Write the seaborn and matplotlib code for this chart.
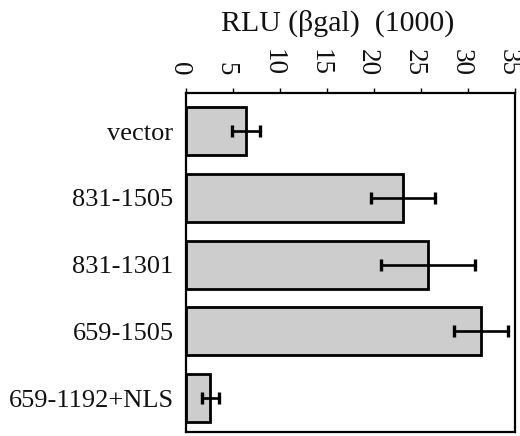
import matplotlib
matplotlib.use("Agg")
import matplotlib.pyplot as plt
import matplotlib.transforms as mtransforms
import seaborn as sns
import numpy as np
import pandas as pd

categories = ["vector", "831-1505", "831-1301", "659-1505", "659-1192+NLS"]
values = [6.4, 23.1, 25.7, 31.4, 2.6]
errors = [1.5, 3.4, 5.0, 2.9, 0.95]
x_ticks = [0, 5, 10, 15, 20, 25, 30, 35]
title = "RLU (\u03b2gal)  (1000)"

sns.set_theme(style="white")
plt.rcParams["font.family"] = ["Liberation Serif", "DejaVu Serif"]

df = pd.DataFrame({"construct": categories, "rlu": values})

fig = plt.figure(figsize=(5.2, 4.36), dpi=100)
ax = fig.add_axes([186 / 520, 4 / 436, 329 / 520, 339 / 436])

sns.barplot(data=df, y="construct", x="rlu", order=categories, orient="h",
            color="#cdcdcd", saturation=1, edgecolor="black", linewidth=2.0,
            width=0.72, errorbar=None, ax=ax)
ax.errorbar(values, np.arange(len(categories)), xerr=errors, fmt="none",
            ecolor="black", elinewidth=1.9, capsize=4.2, capthick=2.4, zorder=5)

ax.set_xlim(0, 35)
ax.set_ylim(4.51, -0.575)
ax.set_xticks(x_ticks)
ax.set_xticklabels([str(t) for t in x_ticks], rotation=-90, fontsize=19.5)
ax.xaxis.tick_top()
ax.tick_params(axis="x", which="both", top=True, bottom=False, length=3.5,
               width=1.0, color="black", direction="out", pad=9, labelcolor="#111111")
ax.tick_params(axis="y", left=False, length=0, pad=9, labelsize=19, labelcolor="#111111")
offset = mtransforms.ScaledTranslation(-7 / 100, 0, fig.dpi_scale_trans)
for lab in ax.get_xticklabels():
    lab.set_transform(lab.get_transform() + offset)
ax.set_xlabel("")
ax.set_ylabel("")
for s in ax.spines.values():
    s.set_color("black")
    s.set_linewidth(1.6)
    s.set_visible(True)

fig.text(0.65, 1 - 31 / 436, title, ha="center", va="baseline", fontsize=21.5, color="#111111")

fig.savefig("out.png", dpi=100)
